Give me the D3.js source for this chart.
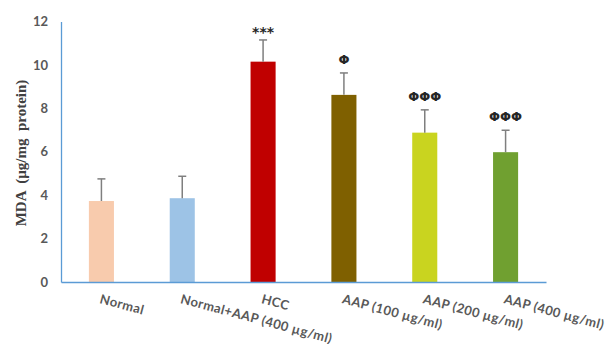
<!DOCTYPE html>
<html>
<head>
<meta charset="utf-8">
<script src="https://cdn.jsdelivr.net/npm/d3@7"></script>
<style>
  body { margin: 0; background: #fff; }
</style>
</head>
<body>
<script>
// chart data
const groups = ['Normal', 'Normal+AAP (400 µg/ml)', 'HCC', 'AAP (100 µg/ml)', 'AAP (200 µg/ml)', 'AAP (400 µg/ml)'];
const means = [3.73, 3.86, 10.15, 8.62, 6.88, 5.98];
const sds = [1.02, 1.01, 1.0, 1.01, 1.05, 1.01];
const marks = ['', '', '***', 'Φ', 'ΦΦΦ', 'ΦΦΦ'];
const colors = ['#F8CBAD', '#9DC3E6', '#C00000', '#7F6000', '#C9D41F', '#70A030'];
const yTicks = [0, 2, 4, 6, 8, 10, 12];

const width = 606, height = 344;
const margin = {top: 21.5, right: 60, bottom: 62, left: 61};
const innerW = width - margin.left - margin.right;
const innerH = height - margin.top - margin.bottom;

const svg = d3.select('body').append('svg')
  .attr('width', width)
  .attr('height', height);

const g = svg.append('g')
  .attr('transform', 'translate(' + margin.left + ',' + margin.top + ')');

const x = d3.scaleBand()
  .domain(groups)
  .range([0, innerW])
  .paddingInner(0.69)
  .paddingOuter(0.345);

const y = d3.scaleLinear()
  .domain([0, 12])
  .range([innerH, 0]);

// y axis
const yAxis = g.append('g')
  .call(d3.axisLeft(y).tickValues(yTicks).tickSize(0).tickPadding(13));
yAxis.select('.domain').attr('stroke', '#5B9BD5').attr('stroke-width', 1.3);
yAxis.selectAll('text')
  .attr('font-family', 'Lato, "Open Sans", sans-serif')
  .attr('font-weight', 'bold')
  .attr('font-size', 13)
  .attr('fill', '#595959');

// bars
g.selectAll('.bar')
  .data(groups)
  .enter().append('rect')
  .attr('class', 'bar')
  .attr('x', d => x(d))
  .attr('y', (d, i) => y(means[i]))
  .attr('width', x.bandwidth())
  .attr('height', (d, i) => innerH - y(means[i]))
  .attr('fill', (d, i) => colors[i]);

// error bars
const err = g.selectAll('.err')
  .data(groups)
  .enter().append('g')
  .attr('class', 'err')
  .attr('stroke', '#7F7F7F')
  .attr('stroke-width', 1.5);
err.append('line')
  .attr('x1', d => x(d) + x.bandwidth() / 2)
  .attr('x2', d => x(d) + x.bandwidth() / 2)
  .attr('y1', (d, i) => y(means[i]))
  .attr('y2', (d, i) => y(means[i] + sds[i]));
err.append('line')
  .attr('x1', d => x(d) + x.bandwidth() / 2 - 4)
  .attr('x2', d => x(d) + x.bandwidth() / 2 + 4)
  .attr('y1', (d, i) => y(means[i] + sds[i]))
  .attr('y2', (d, i) => y(means[i] + sds[i]));

// significance marks
g.selectAll('.mark')
  .data(groups)
  .enter().append('text')
  .attr('class', 'mark')
  .attr('x', d => x(d) + x.bandwidth() / 2)
  .attr('y', (d, i) => y(means[i] + sds[i]) - (marks[i] === '***' ? 3 : 9))
  .attr('text-anchor', 'middle')
  .attr('font-family', '"DejaVu Sans", sans-serif')
  .attr('font-weight', 'bold')
  .attr('font-size', (d, i) => marks[i] === '***' ? 14 : 13)
  .attr('fill', '#262626')
  .text((d, i) => marks[i]);

// x axis line
const xAxis = g.append('g')
  .attr('transform', 'translate(0,' + innerH + ')')
  .call(d3.axisBottom(x).tickSize(0).tickPadding(0));
xAxis.select('.domain').attr('stroke', '#5B9BD5').attr('stroke-width', 1.3);
xAxis.selectAll('text')
  .attr('font-family', 'Lato, "Open Sans", sans-serif')
  .attr('font-weight', 'bold')
  .attr('font-size', 13)
  .attr('letter-spacing', 0.4)
  .attr('fill', '#595959')
  .attr('text-anchor', 'start')
  .attr('dy', '0.71em')
  .attr('x', 0)
  .attr('y', 12)
  .attr('transform', 'rotate(15, 0, 12)');

// y axis title
svg.append('text')
  .attr('transform', 'translate(26,153) rotate(-90)')
  .attr('text-anchor', 'middle')
  .attr('font-family', '"Liberation Serif", serif')
  .attr('font-weight', 'bold')
  .attr('font-size', 15)
  .attr('fill', '#404040')
  .attr('xml:space', 'preserve')
  .text('MDA  (µg/mg  protein)');
</script>
</body>
</html>
